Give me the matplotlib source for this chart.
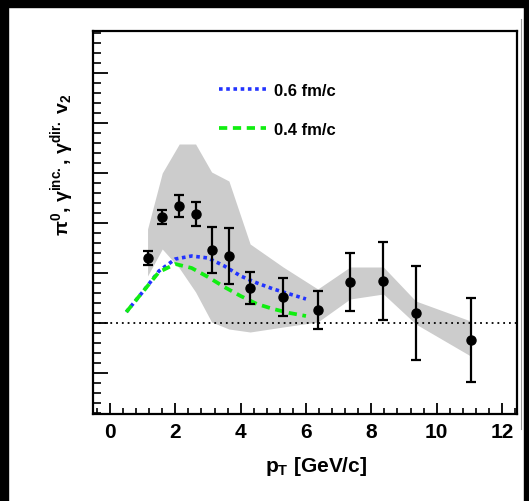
import matplotlib
matplotlib.use("Agg")
import matplotlib.pyplot as plt
from matplotlib.patches import Rectangle
from matplotlib.lines import Line2D
from matplotlib.ticker import MultipleLocator
import numpy as np

plt.rcParams['font.family'] = ['Liberation Sans', 'DejaVu Sans']
plt.rcParams['mathtext.fontset'] = 'custom'
plt.rcParams['mathtext.rm'] = 'Liberation Sans'
plt.rcParams['mathtext.bf'] = 'Liberation Sans:bold'
plt.rcParams['mathtext.it'] = 'Liberation Sans:italic'

# data points (pT, v2, stat error)
pt = [1.15, 1.60, 2.12, 2.62, 3.11, 3.64, 4.29, 5.30, 6.36, 7.35, 8.37, 9.36, 11.04]
v2 = [0.065, 0.106, 0.117, 0.109, 0.073, 0.067, 0.035, 0.026, 0.013, 0.041, 0.042, 0.010, -0.017]
v2_err = [0.007, 0.007, 0.011, 0.012, 0.023, 0.028, 0.016, 0.019, 0.019, 0.029, 0.039, 0.047, 0.042]

# systematic band
sys_hi = [0.094, 0.150, 0.179, 0.179, 0.151, 0.142, 0.079, 0.056, 0.034, 0.056, 0.056, 0.022, 0.002]
sys_lo = [0.047, 0.074, 0.055, 0.031, 0.001, -0.006, -0.009, -0.004, 0.001, 0.024, 0.029, -0.001, -0.033]

# model curves
pt_model = [0.5, 1.0, 1.5, 2.0, 2.5, 3.0, 3.5, 4.0, 4.5, 5.0, 5.5, 6.0]
v2_06 = [0.011, 0.031, 0.052, 0.064, 0.067, 0.065, 0.057, 0.047, 0.040, 0.034, 0.029, 0.024]
v2_04 = [0.011, 0.031, 0.051, 0.059, 0.055, 0.046, 0.036, 0.027, 0.019, 0.014, 0.010, 0.007]

W, H = 529, 502
fig = plt.figure(figsize=(W / 100, H / 100), dpi=100)

# black borders of the screenshot
fig.patches.append(Rectangle((0, 0), 8 / W, 1, transform=fig.transFigure, color='black', zorder=10))
fig.patches.append(Rectangle((0, 1 - 8 / H), 1, 8 / H, transform=fig.transFigure, color='black', zorder=10))
fig.patches.append(Rectangle((524 / W, 0), 5 / W, 1, transform=fig.transFigure, color='black', zorder=10))
fig.add_artist(Line2D([521 / W, 521 / W], [1 - 20 / H, 1 - 430 / H], transform=fig.transFigure, color='#999999', lw=0.8))

ax = fig.add_axes([93 / W, (H - 415) / H, 424 / W, 383 / H])

ax.fill_between(pt, sys_lo, sys_hi, color='#cccccc', lw=0, zorder=1)
ax.axhline(0, color='black', ls=(0, (1, 2.2)), lw=1.3, zorder=2)
ax.plot(pt_model, v2_06, color='#2233ff', ls=(0, (1, 1)), lw=2.6, zorder=3)
ax.plot(pt_model, v2_04, color='#11ee11', ls=(0, (2.2, 1.5)), lw=2.7, zorder=3)
ax.errorbar(pt, v2, yerr=v2_err, fmt='o', color='black', ms=6.5, elinewidth=1.6,
            capsize=3.3, capthick=1.6, zorder=4)

ax.set_xlim(-0.52, 12.46)
ax.set_ylim(-0.091, 0.292)

ax.xaxis.set_major_locator(MultipleLocator(2))
ax.xaxis.set_minor_locator(MultipleLocator(0.4))
ax.yaxis.set_major_locator(MultipleLocator(0.05))
ax.yaxis.set_minor_locator(MultipleLocator(0.01))
ax.tick_params(axis='both', which='both', direction='in', top=False, right=False)
ax.tick_params(axis='x', which='major', length=8, width=1.3, pad=6, labelsize=15)
ax.tick_params(axis='x', which='minor', length=4.5, width=1.2, bottom=True)
ax.tick_params(axis='y', which='major', length=11, width=1.3, labelleft=False)
ax.tick_params(axis='y', which='minor', length=6, width=1.2, left=True)
for lab in ax.get_xticklabels():
    lab.set_fontweight('bold')
for s in ax.spines.values():
    s.set_linewidth(1.6)

handles = [Line2D([], [], color='#2233ff', ls=(0, (1, 1)), lw=2.6),
           Line2D([], [], color='#11ee11', ls=(0, (2.2, 1.5)), lw=2.7)]
leg = ax.legend(handles, ['0.6 fm/c', '0.4 fm/c'], loc='upper left',
                bbox_to_anchor=(204 / W, 1 - 69 / H), bbox_transform=fig.transFigure,
                frameon=False, handlelength=2.8, handletextpad=0.5, labelspacing=1.45,
                prop={'weight': 'bold', 'size': 12})

fig.text(316 / W, 1 - 467 / H, r'p$_{\mathbf{T}}$ [GeV/c]', ha='center', va='center',
         fontsize=15, fontweight='bold')
fig.text(62 / W, 1 - 165 / H, r'π$^{\mathbf{0}}$, γ$^{\mathbf{inc.}}$, γ$^{\mathbf{dir.}}$ v$_{\mathbf{2}}$',
         rotation=90, ha='center', va='center', fontsize=14, fontweight='bold')

fig.savefig('out.png', dpi=100, facecolor='white')
